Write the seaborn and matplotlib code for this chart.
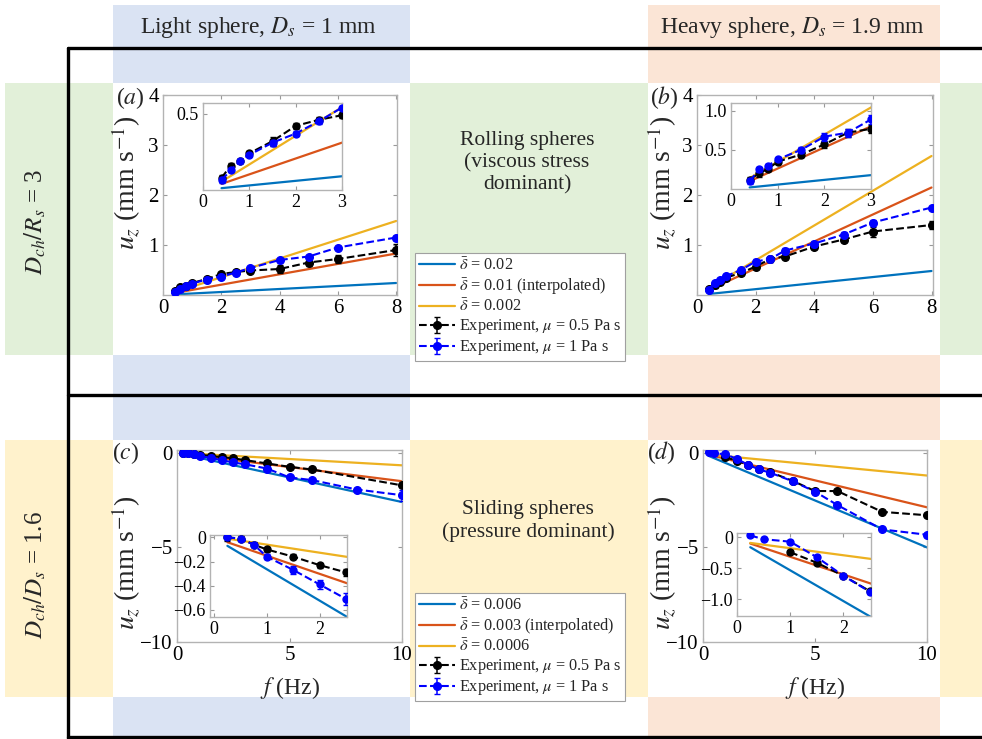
import matplotlib
matplotlib.use('Agg')
import matplotlib.pyplot as plt
import seaborn as sns
from matplotlib.patches import Rectangle
from matplotlib.lines import Line2D

# ---- data ----
# rolling spheres (top row), f in Hz, u_z in mm/s
f_top = [0.4, 0.6, 0.8, 1, 1.5, 2, 2.5, 3, 4, 5, 6, 8]
f_line_top = [0.4, 8]

a_model_blue = [0.012, 0.24]
a_model_orange = [0.04, 0.83]
a_model_yellow = [0.055, 1.48]
a_mu05 = [0.08, 0.16, 0.19, 0.24, 0.32, 0.42, 0.46, 0.49, 0.52, 0.65, 0.72, 0.9]
a_mu05_err = [0.02, 0.02, 0.015, 0.015, 0.03, 0.02, 0.02, 0.02, 0.08, 0.06, 0.08, 0.12]
a_mu1 = [0.065, 0.13, 0.19, 0.23, 0.31, 0.37, 0.45, 0.54, 0.7, 0.77, 0.95, 1.15]
a_mu1_err = [0.02, 0.015, 0.01, 0.01, 0.02, 0.015, 0.015, 0.01, 0.03, 0.03, 0.03, 0.04]

b_model_blue = [0.02, 0.48]
b_model_orange = [0.1, 2.15]
b_model_yellow = [0.14, 2.78]
b_mu05 = [0.12, 0.2, 0.26, 0.35, 0.44, 0.57, 0.72, 0.77, 0.97, 1.11, 1.27, 1.4]
b_mu05_err = [0.03, 0.05, 0.03, 0.03, 0.03, 0.05, 0.05, 0.05, 0.05, 0.05, 0.1, 0.08]
b_mu1 = [0.1, 0.25, 0.3, 0.38, 0.5, 0.67, 0.72, 0.89, 1.03, 1.21, 1.45, 1.75]
b_mu1_err = [0.04, 0.03, 0.02, 0.02, 0.04, 0.05, 0.05, 0.06, 0.06, 0.05, 0.05, 0.04]

# sliding spheres (bottom row)
f_line_bot = [0.25, 10]

c_model_blue = [-0.07, -2.6]
c_model_orange = [-0.04, -1.5]
c_model_yellow = [-0.01, -0.66]
c_f_mu05 = [0.25, 0.5, 0.75, 1, 1.5, 2, 2.5, 3, 4, 5, 6, 10]
c_mu05 = [0, -0.01, -0.06, -0.1, -0.16, -0.23, -0.29, -0.38, -0.56, -0.74, -0.88, -1.72]
c_mu05_err = [0.03, 0.02, 0.02, 0.02, 0.02, 0.02, 0.03, 0.03, 0.04, 0.05, 0.06, 0.1]
c_f_mu1 = [0.25, 0.5, 0.75, 1, 1.5, 2, 2.5, 3, 4, 5, 6, 8, 10]
c_mu1 = [0, -0.01, -0.06, -0.16, -0.27, -0.39, -0.51, -0.6, -0.83, -1.3, -1.44, -1.94, -2.24]
c_mu1_err = [0.01, 0.01, 0.01, 0.02, 0.03, 0.04, 0.05, 0.05, 0.06, 0.08, 0.08, 0.1, 0.3]

d_model_blue = [-0.16, -5.0]
d_model_orange = [-0.1, -2.88]
d_model_yellow = [-0.09, -1.2]
d_f_mu05 = [1, 1.5, 2, 2.5, 3, 4, 5, 6, 8, 10]
d_mu05 = [-0.24, -0.41, -0.62, -0.87, -1.02, -1.48, -2.02, -2.02, -3.12, -3.3]
d_mu05_err = [0.03, 0.03, 0.03, 0.03, 0.04, 0.05, 0.05, 0.05, 0.05, 0.05]
d_f_mu1 = [0.25, 0.5, 1, 1.5, 2, 2.5, 3, 4, 5, 6, 8, 10]
d_mu1 = [0.03, -0.03, -0.07, -0.32, -0.62, -0.88, -1.05, -1.5, -2.05, -2.76, -4.05, -4.33]
d_mu1_err = [0.03, 0.03, 0.03, 0.03, 0.03, 0.03, 0.04, 0.05, 0.05, 0.05, 0.05, 0.05]

model_colors = ['#0072BD', '#D95319', '#EDB120']
labels_top = [r'$\bar{\delta}$ = 0.02', r'$\bar{\delta}$ = 0.01 (interpolated)', r'$\bar{\delta}$ = 0.002',
              r'Experiment, $\mu$ = 0.5 Pa s', r'Experiment, $\mu$ = 1 Pa s']
labels_bot = [r'$\bar{\delta}$ = 0.006', r'$\bar{\delta}$ = 0.003 (interpolated)', r'$\bar{\delta}$ = 0.0006',
              r'Experiment, $\mu$ = 0.5 Pa s', r'Experiment, $\mu$ = 1 Pa s']

sns.set_theme(style='ticks')
plt.rcParams['font.family'] = ['Liberation Serif', 'DejaVu Serif']
plt.rcParams['mathtext.fontset'] = 'stix'
plt.rcParams['axes.unicode_minus'] = True

W, H = 982, 739
fig = plt.figure(figsize=(W / 100, H / 100), dpi=100)
fig.patch.set_facecolor('white')


def box(x0, y0, x1, y1):
    # pixel box (top-left origin) -> figure fraction rect
    return [x0 / W, 1 - y1 / H, (x1 - x0) / W, (y1 - y0) / H]


def rect(x0, y0, x1, y1, color, z):
    r = box(x0, y0, x1, y1)
    fig.add_artist(Rectangle((r[0], r[1]), r[2], r[3], transform=fig.transFigure,
                             facecolor=color, edgecolor='none', zorder=z))


def hline(x0, x1, y):
    fig.add_artist(Line2D([x0 / W, x1 / W], [1 - y / H, 1 - y / H], transform=fig.transFigure,
                          color='black', lw=2.4, zorder=-1))


# background bands
rect(113, 5, 410, 739, '#DAE3F3', -10)
rect(648, 5, 940, 739, '#FBE5D6', -10)
rect(5, 83, 982, 355, '#E2F0D9', -9)
rect(5, 440, 982, 697, '#FFF2CC', -9)
for x0, y0, x1, y1 in [(113, 83, 410, 355), (648, 83, 940, 355), (113, 440, 410, 697), (648, 440, 940, 697)]:
    rect(x0, y0, x1, y1, 'white', -8)

hline(68, 982, 48)
hline(68, 982, 395)
hline(68, 982, 737)
fig.add_artist(Line2D([68 / W, 68 / W], [1 - 48 / H, 0], transform=fig.transFigure,
                      color='black', lw=2.4, zorder=-1))


def style(ax, fs):
    ax.set_facecolor('white')
    ax.tick_params(direction='in', length=3, width=0.8, color='#999999', labelsize=fs,
                   top=True, right=True, pad=3, labelcolor='black')
    for s in ax.spines.values():
        s.set_color('#b3b3b3')
        s.set_linewidth(1.0)


def draw(ax, f_line, models, fk, uk, ek, fb, ub, eb, ms=5.5):
    handles = []
    for vals, c in zip(models, model_colors):
        sns.lineplot(x=f_line, y=vals, color=c, lw=1.6, ax=ax, legend=False)
        handles.append(ax.lines[-1])
    hk = ax.errorbar(fk, uk, yerr=ek, fmt='o--', color='black', ms=ms, lw=1.5,
                     capsize=2.5, elinewidth=1.1, zorder=3)
    hb = ax.errorbar(fb, ub, yerr=eb, fmt='o--', color='#0000FF', ms=ms, lw=1.5,
                     capsize=2.5, elinewidth=1.1, zorder=4)
    ax.set_xlabel('')
    ax.set_ylabel('')
    return handles + [hk, hb]


def cut(f, vals, fmax):
    pairs = [(x, v) for x, v in zip(f, vals) if x <= fmax]
    return [p[0] for p in pairs], [p[1] for p in pairs]


MAIN_FS, INSET_FS = 15, 13

# ---- panel (a) ----
ax = fig.add_axes(box(163, 95, 397, 295))
h_top = draw(ax, f_line_top, [a_model_blue, a_model_orange, a_model_yellow],
             f_top, a_mu05, a_mu05_err, f_top, a_mu1, a_mu1_err)
ax.set_xlim(0, 8.03)
ax.set_ylim(0, 4)
ax.set_xticks([0, 2, 4, 6, 8])
ax.set_yticks([1, 2, 3, 4])
style(ax, MAIN_FS)

ins = fig.add_axes(box(203, 103, 342, 190))
fi, k = cut(f_top, a_mu05, 3)
_, ke = cut(f_top, a_mu05_err, 3)
_, b = cut(f_top, a_mu1, 3)
_, be = cut(f_top, a_mu1_err, 3)
draw(ins, f_line_top, [a_model_blue, a_model_orange, a_model_yellow], fi, k, ke, fi, b, be, ms=5)
ins.set_xlim(0, 3)
ins.set_ylim(0, 0.57)
ins.set_xticks([0, 1, 2, 3])
ins.set_yticks([0.5])
ins.set_yticklabels(['0.5'])
style(ins, INSET_FS)

# ---- panel (b) ----
ax = fig.add_axes(box(697, 95, 933, 295))
draw(ax, f_line_top, [b_model_blue, b_model_orange, b_model_yellow],
     f_top, b_mu05, b_mu05_err, f_top, b_mu1, b_mu1_err)
ax.set_xlim(0.1, 8.05)
ax.set_ylim(0, 4)
ax.set_xticks([0, 2, 4, 6, 8])
ax.set_yticks([1, 2, 3, 4])
style(ax, MAIN_FS)

ins = fig.add_axes(box(731, 103, 871, 189))
fi, k = cut(f_top, b_mu05, 3)
_, ke = cut(f_top, b_mu05_err, 3)
_, b = cut(f_top, b_mu1, 3)
_, be = cut(f_top, b_mu1_err, 3)
draw(ins, f_line_top, [b_model_blue, b_model_orange, b_model_yellow], fi, k, ke, fi, b, be, ms=5)
ins.set_xlim(0, 3)
ins.set_ylim(0, 1.1)
ins.set_xticks([0, 1, 2, 3])
ins.set_yticks([0.5, 1.0])
ins.set_yticklabels(['0.5', '1.0'])
style(ins, INSET_FS)

# ---- panel (c) ----
ax = fig.add_axes(box(177, 450, 402, 642))
h_bot = draw(ax, f_line_bot, [c_model_blue, c_model_orange, c_model_yellow],
             c_f_mu05, c_mu05, c_mu05_err, c_f_mu1, c_mu1, c_mu1_err)
ax.set_xlim(0, 10)
ax.set_ylim(-10, 0.15)
ax.set_xticks([0, 5, 10])
ax.set_yticks([-10, -5, 0])
style(ax, MAIN_FS)

ins = fig.add_axes(box(210, 535, 347, 617))
fk, k = cut(c_f_mu05, c_mu05, 2.5)
_, ke = cut(c_f_mu05, c_mu05_err, 2.5)
fb, b = cut(c_f_mu1, c_mu1, 2.5)
_, be = cut(c_f_mu1, c_mu1_err, 2.5)
draw(ins, f_line_bot, [c_model_blue, c_model_orange, c_model_yellow], fk, k, ke, fb, b, be, ms=5)
ins.set_xlim(-0.08, 2.52)
ins.set_ylim(-0.66, 0.02)
ins.set_xticks([0, 1, 2])
ins.set_yticks([-0.6, -0.4, -0.2, 0])
ins.set_yticklabels(['\u22120.6', '\u22120.4', '\u22120.2', '0'])
style(ins, INSET_FS)

# ---- panel (d) ----
ax = fig.add_axes(box(703, 450, 927, 642))
draw(ax, f_line_bot, [d_model_blue, d_model_orange, d_model_yellow],
     d_f_mu05, d_mu05, d_mu05_err, d_f_mu1, d_mu1, d_mu1_err)
ax.set_xlim(0, 10)
ax.set_ylim(-10, 0.15)
ax.set_xticks([0, 5, 10])
ax.set_yticks([-10, -5, 0])
style(ax, MAIN_FS)

ins = fig.add_axes(box(737, 533, 871, 616))
fk, k = cut(d_f_mu05, d_mu05, 2.5)
_, ke = cut(d_f_mu05, d_mu05_err, 2.5)
fb, b = cut(d_f_mu1, d_mu1, 2.5)
_, be = cut(d_f_mu1, d_mu1_err, 2.5)
draw(ins, f_line_bot, [d_model_blue, d_model_orange, d_model_yellow], fk, k, ke, fb, b, be, ms=5)
ins.set_xlim(0, 2.52)
ins.set_ylim(-1.27, 0.07)
ins.set_xticks([0, 1, 2])
ins.set_yticks([-1.0, -0.5, 0])
ins.set_yticklabels(['\u22121.0', '\u22120.5', '0'])
style(ins, INSET_FS)

# ---- legends ----
for handles, labels, top in [(h_top, labels_top, 253), (h_bot, labels_bot, 593)]:
    leg = fig.legend(handles, labels, loc='upper left', bbox_to_anchor=(415 / W, 1 - top / H),
                     fontsize=11.7, frameon=True, fancybox=False, framealpha=1,
                     edgecolor='#a0a0a0', handlelength=2.2, handletextpad=0.25,
                     labelspacing=0.12, borderpad=0.25, borderaxespad=0)
    leg.get_frame().set_linewidth(0.8)


# ---- texts ----
def ftext(x, y, s, **kw):
    fig.text(x / W, 1 - y / H, s, ha='center', va='center', **kw)


ftext(258, 27, r'Light sphere, $D_s$ = 1 mm', fontsize=17)
ftext(792, 27, r'Heavy sphere, $D_s$ = 1.9 mm', fontsize=17)
ftext(35, 222, r'$D_{ch}/R_s$ = 3', fontsize=18, rotation=90)
ftext(35, 575, r'$D_{ch}/D_s$ = 1.6', fontsize=18, rotation=90)
ftext(527, 163, 'Rolling spheres\n(viscous stress\ndominant)', fontsize=15.5, linespacing=1.2)
ftext(528, 521, 'Sliding spheres\n(pressure dominant)', fontsize=15.5, linespacing=1.2)

for x, y in [(126, 183), (662, 183), (126, 563), (662, 563)]:
    ftext(x, y, r'$u_z$ (mm s$^{-1}$)', fontsize=20, rotation=90)
for x in [290, 815]:
    ftext(x, 688, r'$f$ (Hz)', fontsize=17)
ftext(130, 98, r'($a$)', fontsize=17)
ftext(664, 98, r'($b$)', fontsize=17)
ftext(126, 453, r'($c$)', fontsize=17)
ftext(661, 453, r'($d$)', fontsize=17)

fig.savefig('out.png', dpi=100)
